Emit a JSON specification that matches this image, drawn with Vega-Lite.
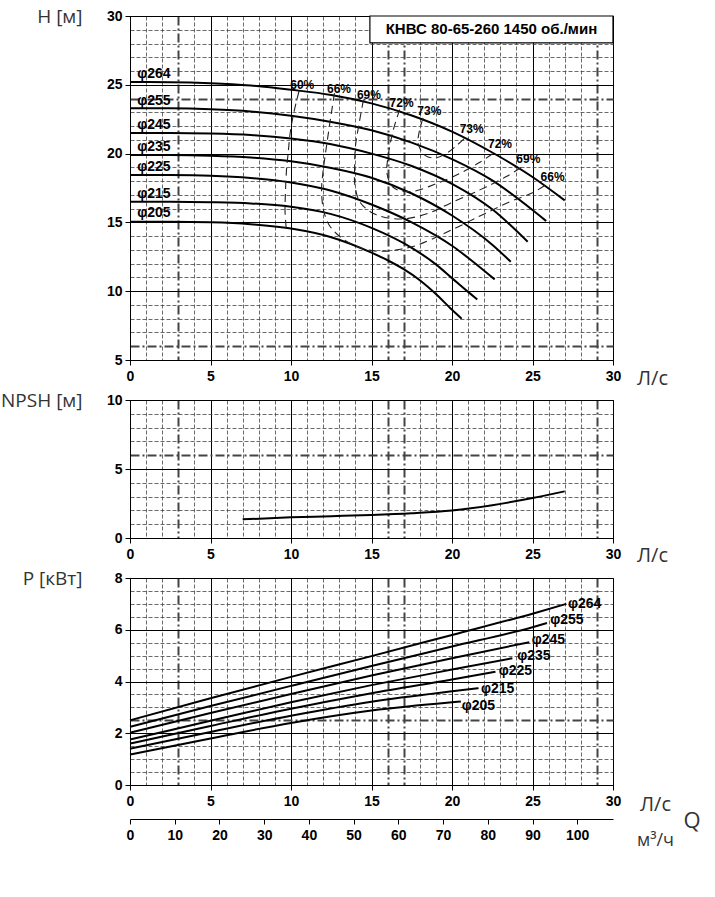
{
  "$schema": "https://vega.github.io/schema/vega-lite/v6.json",
  "padding": {"left": 0, "top": 6, "right": 0, "bottom": 0},
  "spacing": 40,
  "bounds": "flush",
  "config": {
    "view": {"stroke": "black", "strokeWidth": 1},
    "axis": {
      "labelFont": "Liberation Sans", "labelFontWeight": "bold", "labelFontSize": 14, "labelColor": "black",
      "domainColor": "black", "domainWidth": 1, "tickColor": "black", "tickSize": 5,
      "titleFont": "Open Sans", "titleFontWeight": "normal", "titleFontSize": 19, "titleColor": "#333",
      "labelOverlap": false, "labelFlush": false
    },
    "text": {"font": "Liberation Sans", "fontWeight": "bold", "color": "black"}
  },
  "datasets": {
    "head": [
      {"d": "φ264", "q": 0, "h": 25.2}, {"d": "φ264", "q": 2.5, "h": 25.19}, {"d": "φ264", "q": 5, "h": 25.12}, {"d": "φ264", "q": 7.5, "h": 24.95}, {"d": "φ264", "q": 10, "h": 24.64}, {"d": "φ264", "q": 12.5, "h": 24.26}, {"d": "φ264", "q": 15, "h": 23.65}, {"d": "φ264", "q": 17.5, "h": 22.77}, {"d": "φ264", "q": 20, "h": 21.6}, {"d": "φ264", "q": 22.5, "h": 20.08}, {"d": "φ264", "q": 25, "h": 18.3}, {"d": "φ264", "q": 27, "h": 16.6},
      {"d": "φ255", "q": 0, "h": 23.3}, {"d": "φ255", "q": 2.5, "h": 23.29}, {"d": "φ255", "q": 5, "h": 23.22}, {"d": "φ255", "q": 7.5, "h": 23.06}, {"d": "φ255", "q": 10, "h": 22.75}, {"d": "φ255", "q": 12.5, "h": 22.3}, {"d": "φ255", "q": 15, "h": 21.7}, {"d": "φ255", "q": 17.5, "h": 20.8}, {"d": "φ255", "q": 20, "h": 19.6}, {"d": "φ255", "q": 22.5, "h": 18.05}, {"d": "φ255", "q": 25, "h": 15.9}, {"d": "φ255", "q": 25.85, "h": 15.1},
      {"d": "φ245", "q": 0, "h": 21.5}, {"d": "φ245", "q": 2.5, "h": 21.5}, {"d": "φ245", "q": 5, "h": 21.46}, {"d": "φ245", "q": 7.5, "h": 21.35}, {"d": "φ245", "q": 10, "h": 21.1}, {"d": "φ245", "q": 12.5, "h": 20.68}, {"d": "φ245", "q": 15, "h": 20.0}, {"d": "φ245", "q": 17.5, "h": 19.1}, {"d": "φ245", "q": 20, "h": 17.8}, {"d": "φ245", "q": 22.5, "h": 15.95}, {"d": "φ245", "q": 24.7, "h": 13.6},
      {"d": "φ235", "q": 0, "h": 19.9}, {"d": "φ235", "q": 2.5, "h": 19.9}, {"d": "φ235", "q": 5, "h": 19.85}, {"d": "φ235", "q": 7.5, "h": 19.72}, {"d": "φ235", "q": 10, "h": 19.44}, {"d": "φ235", "q": 12.5, "h": 18.96}, {"d": "φ235", "q": 15, "h": 18.25}, {"d": "φ235", "q": 17.5, "h": 17.1}, {"d": "φ235", "q": 20, "h": 15.5}, {"d": "φ235", "q": 22.5, "h": 13.38}, {"d": "φ235", "q": 23.65, "h": 12.14},
      {"d": "φ225", "q": 0, "h": 18.45}, {"d": "φ225", "q": 2.5, "h": 18.44}, {"d": "φ225", "q": 5, "h": 18.39}, {"d": "φ225", "q": 7.5, "h": 18.23}, {"d": "φ225", "q": 10, "h": 17.9}, {"d": "φ225", "q": 12.5, "h": 17.3}, {"d": "φ225", "q": 15, "h": 16.3}, {"d": "φ225", "q": 17.5, "h": 15.0}, {"d": "φ225", "q": 20, "h": 13.3}, {"d": "φ225", "q": 21.25, "h": 12.2}, {"d": "φ225", "q": 22.65, "h": 10.86},
      {"d": "φ215", "q": 0, "h": 16.5}, {"d": "φ215", "q": 2.5, "h": 16.5}, {"d": "φ215", "q": 5, "h": 16.47}, {"d": "φ215", "q": 7.5, "h": 16.38}, {"d": "φ215", "q": 10, "h": 16.13}, {"d": "φ215", "q": 12.5, "h": 15.6}, {"d": "φ215", "q": 15, "h": 14.6}, {"d": "φ215", "q": 17.5, "h": 13.15}, {"d": "φ215", "q": 19, "h": 11.95}, {"d": "φ215", "q": 20, "h": 10.95}, {"d": "φ215", "q": 21, "h": 9.95}, {"d": "φ215", "q": 21.57, "h": 9.4},
      {"d": "φ205", "q": 0, "h": 15.05}, {"d": "φ205", "q": 2.5, "h": 15.05}, {"d": "φ205", "q": 5, "h": 15.01}, {"d": "φ205", "q": 7.5, "h": 14.87}, {"d": "φ205", "q": 10, "h": 14.55}, {"d": "φ205", "q": 12.5, "h": 13.92}, {"d": "φ205", "q": 15, "h": 12.8}, {"d": "φ205", "q": 16, "h": 12.25}, {"d": "φ205", "q": 17, "h": 11.6}, {"d": "φ205", "q": 18, "h": 10.8}, {"d": "φ205", "q": 19, "h": 9.8}, {"d": "φ205", "q": 20, "h": 8.65}, {"d": "φ205", "q": 20.6, "h": 8.0}
    ],
    "eff": [
      {"e": "60%", "i": 1, "q": 10.5, "h": 24.55}, {"e": "60%", "i": 2, "q": 10.17, "h": 22.95}, {"e": "60%", "i": 3, "q": 9.95, "h": 21.5}, {"e": "60%", "i": 4, "q": 9.82, "h": 20.0}, {"e": "60%", "i": 5, "q": 9.72, "h": 18.8}, {"e": "60%", "i": 6, "q": 9.65, "h": 17.0}, {"e": "60%", "i": 7, "q": 9.63, "h": 15.8}, {"e": "60%", "i": 8, "q": 9.7, "h": 14.6},
      {"e": "66%", "i": 1, "q": 12.7, "h": 24.4}, {"e": "66%", "i": 2, "q": 12.45, "h": 22.5}, {"e": "66%", "i": 3, "q": 12.2, "h": 20.5}, {"e": "66%", "i": 4, "q": 11.98, "h": 18.6}, {"e": "66%", "i": 5, "q": 11.9, "h": 17.3}, {"e": "66%", "i": 6, "q": 12.02, "h": 15.9}, {"e": "66%", "i": 7, "q": 12.35, "h": 14.85}, {"e": "66%", "i": 8, "q": 12.9, "h": 14.1}, {"e": "66%", "i": 9, "q": 13.8, "h": 13.4}, {"e": "66%", "i": 10, "q": 14.75, "h": 13.0}, {"e": "66%", "i": 11, "q": 15.8, "h": 12.9}, {"e": "66%", "i": 12, "q": 16.8, "h": 13.05}, {"e": "66%", "i": 13, "q": 17.85, "h": 13.35}, {"e": "66%", "i": 14, "q": 19.7, "h": 14.3}, {"e": "66%", "i": 15, "q": 21.8, "h": 15.5}, {"e": "66%", "i": 16, "q": 23.6, "h": 16.5}, {"e": "66%", "i": 17, "q": 25.0, "h": 17.15}, {"e": "66%", "i": 18, "q": 26.0, "h": 17.85},
      {"e": "69%", "i": 1, "q": 14.5, "h": 23.9}, {"e": "69%", "i": 2, "q": 14.2, "h": 22.0}, {"e": "69%", "i": 3, "q": 14.0, "h": 20.5}, {"e": "69%", "i": 4, "q": 13.95, "h": 19.0}, {"e": "69%", "i": 5, "q": 13.97, "h": 17.7}, {"e": "69%", "i": 6, "q": 14.3, "h": 16.45}, {"e": "69%", "i": 7, "q": 15.3, "h": 15.55}, {"e": "69%", "i": 8, "q": 16.9, "h": 15.25}, {"e": "69%", "i": 9, "q": 18.5, "h": 15.65}, {"e": "69%", "i": 10, "q": 19.9, "h": 16.4}, {"e": "69%", "i": 11, "q": 21.8, "h": 17.4}, {"e": "69%", "i": 12, "q": 23.4, "h": 18.35}, {"e": "69%", "i": 13, "q": 24.3, "h": 19.0},
      {"e": "72%", "i": 1, "q": 16.75, "h": 23.2}, {"e": "72%", "i": 2, "q": 16.35, "h": 21.7}, {"e": "72%", "i": 3, "q": 16.05, "h": 19.95}, {"e": "72%", "i": 4, "q": 15.97, "h": 18.5}, {"e": "72%", "i": 5, "q": 16.4, "h": 17.5}, {"e": "72%", "i": 6, "q": 17.5, "h": 17.25}, {"e": "72%", "i": 7, "q": 19.1, "h": 17.85}, {"e": "72%", "i": 8, "q": 20.55, "h": 18.6}, {"e": "72%", "i": 9, "q": 21.7, "h": 19.35}, {"e": "72%", "i": 10, "q": 22.6, "h": 20.05},
      {"e": "73%", "i": 1, "q": 18.2, "h": 22.6}, {"e": "73%", "i": 2, "q": 17.95, "h": 21.5}, {"e": "73%", "i": 3, "q": 17.9, "h": 20.7}, {"e": "73%", "i": 4, "q": 18.35, "h": 19.85}, {"e": "73%", "i": 5, "q": 19.0, "h": 19.7}, {"e": "73%", "i": 6, "q": 19.7, "h": 20.05}, {"e": "73%", "i": 7, "q": 20.3, "h": 20.6}, {"e": "73%", "i": 8, "q": 20.85, "h": 21.2}
    ],
    "headLabels": [
      {"t": "φ264", "q": 0.45, "h": 25.8}, {"t": "φ255", "q": 0.45, "h": 23.85}, {"t": "φ245", "q": 0.45, "h": 22.1}, {"t": "φ235", "q": 0.45, "h": 20.5}, {"t": "φ225", "q": 0.45, "h": 19.05}, {"t": "φ215", "q": 0.45, "h": 17.1}, {"t": "φ205", "q": 0.45, "h": 15.65}
    ],
    "effLabels": [
      {"t": "60%", "q": 10.7, "h": 25.0}, {"t": "66%", "q": 12.98, "h": 24.68}, {"t": "69%", "q": 14.84, "h": 24.27}, {"t": "72%", "q": 16.87, "h": 23.71}, {"t": "73%", "q": 18.59, "h": 23.06},
      {"t": "73%", "q": 21.22, "h": 21.8}, {"t": "72%", "q": 22.98, "h": 20.72}, {"t": "69%", "q": 24.74, "h": 19.6}, {"t": "66%", "q": 26.25, "h": 18.3}
    ],
    "box": [
      {"q": 14.9, "q2": 30, "h": 28.05, "h2": 30}
    ],
    "boxText": [
      {"q": 22.45, "h": 29.03, "t": "КНВС 80-65-260 1450 об./мин"}
    ],
    "npsh": [
      {"q": 7, "n": 1.35}, {"q": 10, "n": 1.5}, {"q": 12.5, "n": 1.58}, {"q": 15, "n": 1.67}, {"q": 17.5, "n": 1.8}, {"q": 20, "n": 2.0}, {"q": 22.5, "n": 2.38}, {"q": 25, "n": 2.9}, {"q": 27, "n": 3.38}
    ],
    "power": [
      {"d": "φ264", "q": 0, "p": 2.5}, {"d": "φ264", "q": 5, "p": 3.35}, {"d": "φ264", "q": 10, "p": 4.18}, {"d": "φ264", "q": 15, "p": 4.98}, {"d": "φ264", "q": 20, "p": 5.8}, {"d": "φ264", "q": 25, "p": 6.62}, {"d": "φ264", "q": 27.1, "p": 7.0},
      {"d": "φ255", "q": 0, "p": 2.25}, {"d": "φ255", "q": 5, "p": 3.05}, {"d": "φ255", "q": 10, "p": 3.83}, {"d": "φ255", "q": 15, "p": 4.6}, {"d": "φ255", "q": 20, "p": 5.35}, {"d": "φ255", "q": 25, "p": 6.1}, {"d": "φ255", "q": 25.9, "p": 6.26},
      {"d": "φ245", "q": 0, "p": 2.02}, {"d": "φ245", "q": 5, "p": 2.78}, {"d": "φ245", "q": 10, "p": 3.52}, {"d": "φ245", "q": 15, "p": 4.23}, {"d": "φ245", "q": 20, "p": 4.9}, {"d": "φ245", "q": 24.8, "p": 5.52},
      {"d": "φ235", "q": 0, "p": 1.76}, {"d": "φ235", "q": 5, "p": 2.48}, {"d": "φ235", "q": 10, "p": 3.2}, {"d": "φ235", "q": 15, "p": 3.86}, {"d": "φ235", "q": 20, "p": 4.46}, {"d": "φ235", "q": 23.75, "p": 4.9},
      {"d": "φ225", "q": 0, "p": 1.6}, {"d": "φ225", "q": 5, "p": 2.28}, {"d": "φ225", "q": 10, "p": 2.95}, {"d": "φ225", "q": 15, "p": 3.55}, {"d": "φ225", "q": 20, "p": 4.08}, {"d": "φ225", "q": 22.7, "p": 4.38},
      {"d": "φ215", "q": 0, "p": 1.4}, {"d": "φ215", "q": 5, "p": 2.05}, {"d": "φ215", "q": 10, "p": 2.68}, {"d": "φ215", "q": 15, "p": 3.22}, {"d": "φ215", "q": 20, "p": 3.62}, {"d": "φ215", "q": 21.65, "p": 3.74},
      {"d": "φ205", "q": 0, "p": 1.18}, {"d": "φ205", "q": 5, "p": 1.8}, {"d": "φ205", "q": 10, "p": 2.4}, {"d": "φ205", "q": 15, "p": 2.88}, {"d": "φ205", "q": 20, "p": 3.2}, {"d": "φ205", "q": 20.55, "p": 3.23}
    ],
    "powerLabels": [
      {"t": "φ264", "q": 27.2, "p": 7.0}, {"t": "φ255", "q": 26.1, "p": 6.36}, {"t": "φ245", "q": 24.95, "p": 5.6}, {"t": "φ235", "q": 24.05, "p": 5.0}, {"t": "φ225", "q": 22.9, "p": 4.4}, {"t": "φ215", "q": 21.8, "p": 3.72}, {"t": "φ205", "q": 20.6, "p": 3.07}
    ],
    "qlabel": [
      {"m3": 125.7, "p": -1.4, "t": "Q"}
    ]
  },
  "vconcat": [
    {
      "width": 483,
      "height": 344,
      "encoding": {
        "x": {
          "field": "q", "type": "quantitative",
          "scale": {"domain": [0, 30], "nice": false, "zero": false},
          "axis": {
            "values": [0,1,2,3,4,5,6,7,8,9,10,11,12,13,14,15,16,17,18,19,20,21,22,23,24,25,26,27,28,29,30],
            "grid": true,
            "gridColor": {"condition": {"test": "datum.value % 5 === 0", "value": "black"}, "value": "#444"},
            "gridWidth": {"condition": [{"test": "datum.value % 5 === 0", "value": 1}, {"test": "indexof([3,16,17,29], datum.value) >= 0", "value": 2}], "value": 0.8},
            "gridDash": {"condition": [{"test": "datum.value % 5 === 0", "value": []}, {"test": "indexof([3,16,17,29], datum.value) >= 0", "value": [9,3,2,3]}], "value": [4,2]},
            "tickOpacity": {"condition": {"test": "datum.value % 5 === 0", "value": 1}, "value": 0},
            "labelExpr": "datum.value % 5 === 0 ? datum.label : ''",
            "labelPadding": 4,
            "title": "Л/с", "titleAngle": 0, "titleAlign": "center", "titleBaseline": "middle",
            "titleX": 522, "titleY": 18, "titleFontSize": 20
          }
        },
        "y": {
          "field": "h", "type": "quantitative",
          "scale": {"domain": [5, 30], "nice": false, "zero": false},
          "axis": {
            "values": [5,6,7,8,9,10,11,12,13,14,15,16,17,18,19,20,21,22,23,24,25,26,27,28,29,30],
            "grid": true,
            "gridColor": {"condition": {"test": "datum.value % 5 === 0", "value": "black"}, "value": "#444"},
            "gridWidth": {"condition": [{"test": "datum.value % 5 === 0", "value": 1}, {"test": "indexof([6,24], datum.value) >= 0", "value": 2}], "value": 0.8},
            "gridDash": {"condition": [{"test": "datum.value % 5 === 0", "value": []}, {"test": "indexof([6,24], datum.value) >= 0", "value": [9,3,2,3]}], "value": [4,2]},
            "tickOpacity": {"condition": {"test": "datum.value % 5 === 0", "value": 1}, "value": 0},
            "labelExpr": "datum.value % 5 === 0 ? datum.label : ''",
            "labelPadding": 3,
            "title": "H [м]", "titleAngle": 0, "titleAlign": "right", "titleBaseline": "middle",
            "titleX": -48, "titleY": 0
          }
        }
      },
      "layer": [
        {
          "data": {"name": "head"},
          "mark": {"type": "line", "color": "black", "strokeWidth": 2, "interpolate": "monotone"},
          "encoding": {"detail": {"field": "d"}}
        },
        {
          "data": {"name": "eff"},
          "mark": {"type": "line", "color": "#222", "strokeWidth": 1.1, "strokeDash": [8, 5], "interpolate": "catmull-rom"},
          "encoding": {"detail": {"field": "e"}, "order": {"field": "i"}}
        },
        {
          "data": {"name": "headLabels"},
          "mark": {"type": "text", "align": "left", "baseline": "middle", "fontSize": 14},
          "encoding": {"text": {"field": "t"}}
        },
        {
          "data": {"name": "effLabels"},
          "mark": {"type": "text", "align": "center", "baseline": "middle", "fontSize": 12},
          "encoding": {"text": {"field": "t"}}
        },
        {
          "data": {"name": "box"},
          "mark": {"type": "rect", "fill": "white", "stroke": "black", "strokeWidth": 1.2},
          "encoding": {"x2": {"field": "q2"}, "y2": {"field": "h2"}}
        },
        {
          "data": {"name": "boxText"},
          "mark": {"type": "text", "align": "center", "baseline": "middle", "fontSize": 15},
          "encoding": {"text": {"field": "t"}}
        }
      ]
    },
    {
      "width": 483,
      "height": 138,
      "data": {"name": "npsh"},
      "mark": {"type": "line", "color": "black", "strokeWidth": 2, "interpolate": "monotone"},
      "encoding": {
        "x": {
          "field": "q", "type": "quantitative",
          "scale": {"domain": [0, 30], "nice": false, "zero": false},
          "axis": {
            "values": [0,1,2,3,4,5,6,7,8,9,10,11,12,13,14,15,16,17,18,19,20,21,22,23,24,25,26,27,28,29,30],
            "grid": true,
            "gridColor": {"condition": {"test": "datum.value % 5 === 0", "value": "black"}, "value": "#444"},
            "gridWidth": {"condition": [{"test": "datum.value % 5 === 0", "value": 1}, {"test": "indexof([3,16,17,29], datum.value) >= 0", "value": 2}], "value": 0.8},
            "gridDash": {"condition": [{"test": "datum.value % 5 === 0", "value": []}, {"test": "indexof([3,16,17,29], datum.value) >= 0", "value": [9,3,2,3]}], "value": [4,2]},
            "tickOpacity": {"condition": {"test": "datum.value % 5 === 0", "value": 1}, "value": 0},
            "labelExpr": "datum.value % 5 === 0 ? datum.label : ''",
            "labelPadding": 4,
            "title": "Л/с", "titleAngle": 0, "titleAlign": "center", "titleBaseline": "middle",
            "titleX": 522, "titleY": 17, "titleFontSize": 20
          }
        },
        "y": {
          "field": "n", "type": "quantitative",
          "scale": {"domain": [0, 10], "nice": false},
          "axis": {
            "values": [0,1,2,3,4,5,6,7,8,9,10],
            "grid": true,
            "gridColor": {"condition": {"test": "datum.value % 5 === 0", "value": "black"}, "value": "#444"},
            "gridWidth": {"condition": [{"test": "datum.value % 5 === 0", "value": 1}, {"test": "datum.value === 6", "value": 2}], "value": 0.8},
            "gridDash": {"condition": [{"test": "datum.value % 5 === 0", "value": []}, {"test": "datum.value === 6", "value": [9,3,2,3]}], "value": [4,2]},
            "tickOpacity": {"condition": {"test": "datum.value % 5 === 0", "value": 1}, "value": 0},
            "labelExpr": "datum.value % 5 === 0 ? datum.label : ''",
            "labelPadding": 3,
            "title": "NPSH [м]", "titleAngle": 0, "titleAlign": "right", "titleBaseline": "middle",
            "titleX": -48, "titleY": 0
          }
        }
      }
    },
    {
      "width": 483,
      "height": 207,
      "layer": [
        {
          "encoding": {
            "x": {
              "field": "q", "type": "quantitative",
              "scale": {"domain": [0, 30], "nice": false, "zero": false},
              "axis": {
                "values": [0,1,2,3,4,5,6,7,8,9,10,11,12,13,14,15,16,17,18,19,20,21,22,23,24,25,26,27,28,29,30],
                "grid": true,
                "gridColor": {"condition": {"test": "datum.value % 5 === 0", "value": "black"}, "value": "#444"},
                "gridWidth": {"condition": [{"test": "datum.value % 5 === 0", "value": 1}, {"test": "indexof([3,16,17,29], datum.value) >= 0", "value": 2}], "value": 0.8},
                "gridDash": {"condition": [{"test": "datum.value % 5 === 0", "value": []}, {"test": "indexof([3,16,17,29], datum.value) >= 0", "value": [9,3,2,3]}], "value": [4,2]},
                "tickOpacity": {"condition": {"test": "datum.value % 5 === 0", "value": 1}, "value": 0},
                "labelExpr": "datum.value % 5 === 0 ? datum.label : ''",
                "labelPadding": 4,
                "title": "Л/с", "titleAngle": 0, "titleAlign": "center", "titleBaseline": "middle",
                "titleX": 525, "titleY": 19, "titleFontSize": 20
              }
            },
            "y": {
              "field": "p", "type": "quantitative",
              "scale": {"domain": [0, 8], "nice": false},
              "axis": {
                "values": [0,0.5,1,1.5,2,2.5,3,3.5,4,4.5,5,5.5,6,6.5,7,7.5,8],
                "grid": true,
                "gridColor": {"condition": {"test": "datum.value % 2 === 0", "value": "black"}, "value": "#444"},
                "gridWidth": {"condition": [{"test": "datum.value % 2 === 0", "value": 1}, {"test": "datum.value === 2.5", "value": 2}], "value": 0.8},
                "gridDash": {"condition": [{"test": "datum.value % 2 === 0", "value": []}, {"test": "datum.value === 2.5", "value": [9,3,2,3]}], "value": [4,2]},
                "tickOpacity": {"condition": {"test": "datum.value % 2 === 0", "value": 1}, "value": 0},
                "labelExpr": "datum.value % 2 === 0 ? format(datum.value, 'd') : ''",
                "labelPadding": 3,
                "title": "P [кВт]", "titleAngle": 0, "titleAlign": "right", "titleBaseline": "middle",
                "titleX": -48, "titleY": 0
              }
            }
          },
          "layer": [
            {
              "data": {"name": "power"},
              "mark": {"type": "line", "color": "black", "strokeWidth": 2, "interpolate": "monotone"},
              "encoding": {"detail": {"field": "d"}}
            },
            {
              "data": {"name": "powerLabels"},
              "mark": {"type": "text", "align": "left", "baseline": "middle", "fontSize": 14},
              "encoding": {"text": {"field": "t"}}
            }
          ]
        },
        {
          "data": {"name": "qlabel"},
          "mark": {"type": "text", "align": "center", "baseline": "middle", "font": "Open Sans", "fontWeight": "normal", "fontSize": 22, "color": "#333"},
          "encoding": {
            "x": {
              "field": "m3", "type": "quantitative",
              "scale": {"domain": [0, 108], "nice": false, "zero": false},
              "axis": {
                "orient": "bottom", "offset": 34,
                "values": [0,10,20,30,40,50,60,70,80,90,100],
                "grid": false,
                "labelPadding": 4,
                "title": "м³/ч", "titleAngle": 0, "titleAlign": "center", "titleBaseline": "middle",
                "titleX": 525, "titleY": 21, "titleFontSize": 18
              }
            },
            "y": {"field": "p", "type": "quantitative", "scale": {"domain": [0, 8], "nice": false}, "axis": null},
            "text": {"field": "t"}
          }
        }
      ],
      "resolve": {"scale": {"x": "independent", "y": "independent"}}
    }
  ]
}
